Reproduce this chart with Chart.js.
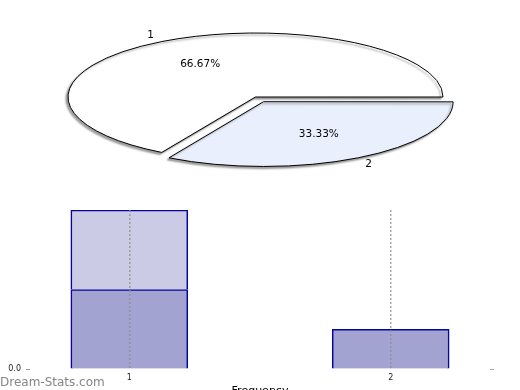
<!DOCTYPE html>
<html><head><meta charset="utf-8">
<script src="https://cdn.jsdelivr.net/npm/chart.js@4/dist/chart.umd.min.js"></script>
<style>
html,body{margin:0;padding:0;width:520px;height:390px;overflow:hidden;background:#fff;}
#pie{position:absolute;left:0;top:0;}
#bar{position:absolute;left:0;top:195px;}
#wm{position:absolute;left:0;top:375px;font:12px 'DejaVu Sans',sans-serif;line-height:14px;color:#858585;white-space:nowrap;}
</style></head>
<body>
<canvas id="pie" width="520" height="195"></canvas>
<canvas id="bar" width="520" height="215"></canvas>
<div id="wm">Dream-Stats.com</div>
<script>
const pieLabels = ['1', '2'];
const pieCounts = [2, 1];
const barCategories = [1, 2];
const lowerValues = [2, 1];
const upperValues = [2, null];
const yTickValues = [0];
const yTickLabels = ['0.0'];
const xTitle = 'Frequency';

Chart.defaults.font.family = "'DejaVu Sans', sans-serif";
Chart.defaults.animation = false;

const K = 64 / 187.5;
const total = pieCounts.reduce((a, b) => a + b, 0);
const pctLabels = pieCounts.map(v => (v / total * 100).toFixed(2) + '%');

const ellipsePlugin = {
  id: 'ellipse',
  beforeDatasetsDraw(chart) {
    const ctx = chart.ctx;
    const a = chart.chartArea;
    const cx = (a.left + a.right) / 2, cy = (a.top + a.bottom) / 2;
    ctx.save();
    const base = ctx.getTransform();
    ctx.translate(cx, cy); ctx.scale(1, K); ctx.translate(-cx, -cy);
    ctx.shadowColor = 'rgba(0,0,0,0.38)';
    ctx.shadowOffsetX = -2; ctx.shadowOffsetY = 2; ctx.shadowBlur = 2;
    const origStroke = CanvasRenderingContext2D.prototype.stroke;
    ctx.stroke = function (...args) { this.save(); this.setTransform(base); origStroke.apply(this, args); this.restore(); };
  },
  afterDatasetsDraw(chart) {
    const ctx = chart.ctx;
    delete ctx.stroke;
    ctx.restore();
    const a = chart.chartArea;
    const cy = (a.top + a.bottom) / 2;
    const meta = chart.getDatasetMeta(0);
    ctx.save();
    ctx.font = "10.5px 'DejaVu Sans', sans-serif";
    ctx.fillStyle = '#000';
    ctx.textAlign = 'center';
    ctx.textBaseline = 'middle';
    meta.data.forEach((arc, i) => {
      const p = arc.getProps(['x', 'y', 'startAngle', 'endAngle', 'outerRadius'], true);
      const mid = (p.startAngle + p.endAngle) / 2;
      const off = (arc.options.offset || 0) / 4;
      const ox = p.x + Math.cos(mid) * off, oy = p.y + Math.sin(mid) * off;
      const at = f => {
        const x = ox + Math.cos(mid) * p.outerRadius * f;
        const y = oy + Math.sin(mid) * p.outerRadius * f;
        return [x, cy + (y - cy) * K];
      };
      let [x, y] = at(0.59); ctx.fillText(pctLabels[i], x, y);
      [x, y] = at(1.12); ctx.fillText(pieLabels[i], x, y);
    });
    ctx.restore();
  }
};

new Chart(document.getElementById('pie'), {
  type: 'pie',
  data: {
    labels: pieLabels,
    datasets: [{
      data: pieCounts,
      backgroundColor: ['#ffffff', '#e9effc'],
      borderColor: '#000000',
      borderWidth: 1,
      borderJoinStyle: 'miter',
      offset: [0, 64],
      clip: false
    }]
  },
  options: {
    responsive: false,
    animation: false,
    events: [],
    rotation: 210,
    radius: 187.5,
    layout: { padding: { left: 0, right: 9, top: 0, bottom: 1 } },
    plugins: { legend: { display: false }, tooltip: { enabled: false } }
  },
  plugins: [ellipsePlugin]
});

function noPad(s) { s.paddingTop = 0; s.paddingBottom = 0; s.paddingLeft = 0; s.paddingRight = 0; }

new Chart(document.getElementById('bar'), {
  type: 'bar',
  data: {
    datasets: [
      {
        data: barCategories.map((c, i) => ({ x: c, y: lowerValues[i] })),
        backgroundColor: '#a3a3d1', borderColor: '#06069a', borderWidth: 1.6, barThickness: 117
      },
      {
        data: barCategories.map((c, i) => ({ x: c, y: upperValues[i] })),
        backgroundColor: '#cbcbe5', borderColor: '#06069a', borderWidth: 1.6, barThickness: 117
      }
    ]
  },
  options: {
    responsive: false,
    animation: false,
    events: [],
    layout: { padding: { top: 15, left: 0, right: 0, bottom: 0 } },
    plugins: { legend: { display: false }, tooltip: { enabled: false } },
    scales: {
      x: {
        type: 'linear', min: 0.62, max: 2.38, stacked: true, offset: false,
        afterBuildTicks: s => { s.ticks = barCategories.map(v => ({ value: v })); },
        ticks: { callback: v => String(v), font: { size: 8 }, color: '#222', padding: 4, autoSkip: false, maxRotation: 0 },
        grid: { color: 'rgba(140,140,140,0.75)', lineWidth: 1.5, drawTicks: false, offset: false, z: 1 },
        border: { display: false, dash: [2, 2] },
        title: { display: true, text: xTitle, font: { size: 11 }, color: '#000', padding: { top: 0, bottom: 12 } },
        afterFit: s => { s.height = 41; noPad(s); }
      },
      y: {
        position: 'left', min: 0, max: 4, stacked: true,
        afterBuildTicks: s => { s.ticks = yTickValues.map(v => ({ value: v })); },
        ticks: { callback: (v, i) => yTickLabels[i], font: { size: 8 }, color: '#222', padding: 5 },
        grid: { drawOnChartArea: false, drawTicks: true, tickLength: 4, color: '#999' },
        border: { display: false },
        afterFit: s => { s.width = 30; noPad(s); }
      },
      y2: {
        position: 'right', min: 0, max: 4,
        afterBuildTicks: s => { s.ticks = yTickValues.map(v => ({ value: v })); },
        ticks: { callback: () => '', font: { size: 8 }, padding: 0 },
        grid: { drawOnChartArea: false, drawTicks: true, tickLength: 4, color: '#aaa' },
        border: { display: false },
        afterFit: s => { s.width = 30; noPad(s); }
      }
    }
  }
});
</script>
</body></html>
